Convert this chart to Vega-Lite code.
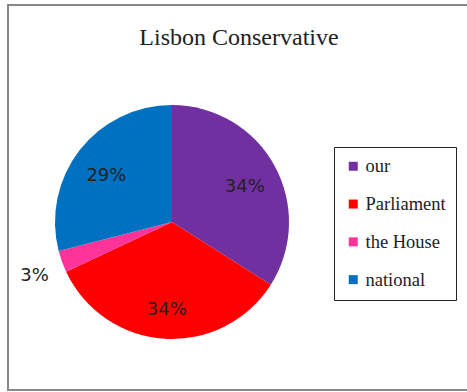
{
  "$schema": "https://vega.github.io/schema/vega-lite/v6.json",
  "autosize": {"type": "fit", "contains": "padding"},
  "width": 467,
  "height": 392,
  "padding": {"left": 8, "top": 5, "right": -3, "bottom": 2},
  "background": "white",
  "config": {
    "view": {"stroke": "#888888", "strokeWidth": 2}
  },
  "title": {
    "text": "Lisbon Conservative",
    "font": "Liberation Serif",
    "fontSize": 24,
    "fontWeight": "normal",
    "color": "#222222",
    "anchor": "middle",
    "offset": -45
  },
  "data": {
    "values": [
      {"category": "our", "value": 34, "label": "34%", "order": 1},
      {"category": "Parliament", "value": 34, "label": "34%", "order": 2},
      {"category": "the House", "value": 3, "label": "3%", "order": 3},
      {"category": "national", "value": 29, "label": "29%", "order": 4}
    ]
  },
  "encoding": {
    "theta": {"field": "value", "type": "quantitative", "stack": true},
    "order": {"field": "order", "type": "quantitative"},
    "x": {"value": 164},
    "y": {"value": 217}
  },
  "layer": [
    {
      "mark": {"type": "arc", "outerRadius": 117},
      "encoding": {
        "color": {
          "field": "category",
          "type": "nominal",
          "sort": ["our", "Parliament", "the House", "national"],
          "scale": {
            "domain": ["our", "Parliament", "the House", "national"],
            "range": ["#7030A0", "#FF0000", "#FF3399", "#0070C0"]
          },
          "legend": {
            "title": null,
            "orient": "none",
            "legendX": 326,
            "legendY": 142,
            "strokeColor": "#222222",
            "fillColor": "white",
            "padding": 10,
            "rowPadding": 18.8,
            "labelFont": "Liberation Serif",
            "labelFontSize": 18.5,
            "labelColor": "#222222",
            "labelOffset": 3,
            "symbolType": "square",
            "symbolSize": 81,
            "symbolStrokeWidth": 0
          }
        }
      }
    },
    {
      "mark": {"type": "text", "font": "DejaVu Sans", "fontSize": 18, "color": "#222222", "align": "center", "baseline": "middle", "dy": 5},
      "encoding": {
        "text": {"field": "label", "type": "nominal"},
        "radius": {
          "field": "value",
          "type": "quantitative",
          "scale": {"type": "linear", "domain": [5, 6], "range": [146, 83], "clamp": true, "zero": false, "nice": false}
        }
      }
    }
  ]
}
